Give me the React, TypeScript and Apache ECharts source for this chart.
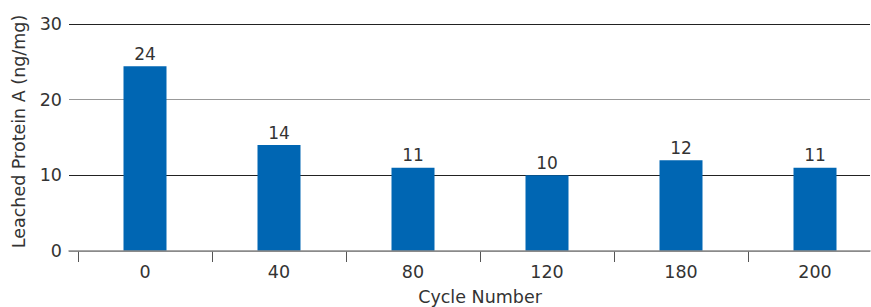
import React, { useEffect, useRef } from "react";
import * as echarts from "echarts";

const categories = ["0", "40", "80", "120", "180", "200"];
const leached = [24.4, 14, 11, 10, 12, 11];
const yTicks = { min: 0, max: 30, interval: 10 };
const xTitle = "Cycle Number";
const yTitle = "Leached Protein A (ng/mg)";

const FONT = "'DejaVu Sans', Verdana, sans-serif";
const TEXT = "#333333";

export default function App() {
  const ref = useRef<HTMLDivElement>(null);
  useEffect(() => {
    if (!ref.current) return;
    const chart = echarts.init(ref.current, undefined, { renderer: "svg" });
    chart.setOption({
      animation: false,
      backgroundColor: "#ffffff",
      textStyle: { fontFamily: FONT },
      grid: [
        { left: 69, right: 1, top: 24, bottom: 56, outerBoundsMode: "none", containLabel: false },
        { left: 78, right: -11, top: 24, bottom: 56, outerBoundsMode: "none", containLabel: false },
      ],
      xAxis: [
        {
          gridIndex: 0,
          type: "category",
          data: [""],
          axisLine: { show: true, lineStyle: { color: "#8a8a8a", width: 1.5 } },
          axisTick: { show: false },
          axisLabel: { show: false },
          splitLine: { show: false },
          z: 5,
        },
        {
          gridIndex: 1,
          type: "category",
          data: categories,
          axisLine: { show: false },
          axisTick: {
            show: true,
            length: 11,
            lineStyle: { color: "#555555", width: 1 },
          },
          axisLabel: {
            color: TEXT,
            fontSize: 17.5,
            fontFamily: FONT,
            margin: 12,
          },
          name: xTitle,
          nameLocation: "middle",
          nameGap: 37,
          nameTextStyle: { color: TEXT, fontSize: 17.5, fontFamily: FONT },
        },
      ],
      yAxis: [
        {
          gridIndex: 0,
          type: "value",
          min: yTicks.min,
          max: yTicks.max,
          interval: yTicks.interval,
          axisLine: { show: false },
          axisTick: { show: false },
          axisLabel: {
            color: TEXT,
            fontSize: 17.5,
            fontFamily: FONT,
            margin: 7,
          },
          splitLine: {
            show: true,
            lineStyle: {
              color: ["#8a8a8a", "#222222", "#999999", "#222222"],
              width: 1,
            },
          },
          name: yTitle,
          nameLocation: "middle",
          nameGap: 41,
          nameTextStyle: {
            color: TEXT,
            fontSize: 17.5,
            fontFamily: FONT,
            padding: [0, 0, 0, 12],
          },
        },
        {
          gridIndex: 1,
          type: "value",
          min: yTicks.min,
          max: yTicks.max,
          interval: yTicks.interval,
          show: false,
          splitLine: { show: false },
        },
      ],
      series: [
        {
          type: "bar",
          xAxisIndex: 1,
          yAxisIndex: 1,
          data: leached,
          barWidth: 43,
          itemStyle: { color: "#0066b3" },
          label: {
            show: true,
            position: "top",
            distance: 4,
            color: TEXT,
            fontSize: 17,
            fontFamily: FONT,
            formatter: (p: any) => String(Math.round(p.value)),
          },
        },
      ],
    });
    return () => chart.dispose();
  }, []);
  return <div ref={ref} style={{ width: 871, height: 307, position: "absolute", left: 0, top: 0 }} />;
}
